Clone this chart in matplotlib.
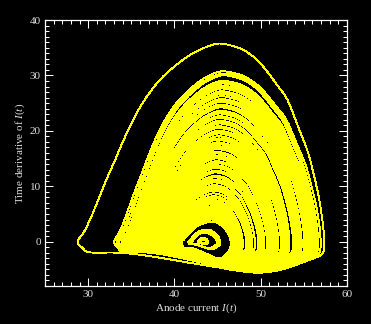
import numpy as np
import matplotlib
matplotlib.use("Agg")
import matplotlib.pyplot as plt
from matplotlib.path import Path
from matplotlib.patches import PathPatch
from matplotlib.ticker import MultipleLocator

plt.rcParams['font.family'] = ['Liberation Serif', 'DejaVu Serif']
plt.rcParams['mathtext.fontset'] = 'custom'
plt.rcParams['mathtext.rm'] = 'Liberation Serif'
plt.rcParams['mathtext.it'] = 'Liberation Serif:italic'

# ---- loop parameters (one entry per orbit loop) ----
loop_top = [35.7, 30.7, 30.3, 30.0,
            29.0, 28.7, 28.5, 28.1, 27.8, 27.6, 27.1, 26.8, 26.6, 26.2,
            25.7, 25.5, 25.2, 24.7, 24.4, 24.2, 23.6, 23.3, 23.1, 22.6,
            22.3, 21.8, 21.5, 21.3, 20.8, 20.5, 20.0, 19.7, 19.5, 19.0,
            18.6, 18.4, 17.9, 17.6, 17.2, 16.9, 16.7, 16.2, 15.9, 15.5,
            15.2, 15.0, 14.5, 14.2, 13.8, 13.5, 13.3, 12.8, 12.5, 11.9,
            11.6, 11.2, 10.9, 10.7, 10.2, 9.9, 9.5, 9.2, 8.7, 8.2,
            7.9, 7.5, 7.2, 6.8, 6.4, 6.1, 5.7, 5.4, 5.0, 4.7,
            4.3, 4.0, 3.6,
            2.2, 1.9, 1.6, 0.7, 0.4]
loop_left = [28.8, 33.0, 33.3, 33.6,
             33.9, 34.2, 34.0, 34.3, 34.1, 34.3, 34.7, 34.4, 34.7, 34.5,
             34.8, 35.1, 34.9, 35.2, 35.0, 35.2, 35.6, 35.4, 35.6, 35.5,
             35.8, 36.1, 35.9, 36.1, 36.0, 36.2, 36.6, 36.4, 36.6, 36.4,
             36.8, 37.0, 36.8, 37.1, 36.9, 37.2, 37.5, 37.3, 37.6, 37.4,
             37.7, 37.9, 37.8, 38.0, 37.9, 38.1, 38.4, 38.2, 38.5, 38.4,
             38.6, 39.0, 38.7, 39.0, 38.8, 39.1, 39.4, 39.2, 39.5, 39.4,
             39.6, 40.0, 39.7, 40.0, 39.8, 40.1, 40.4, 40.2, 40.5, 40.3,
             40.6, 40.8, 40.8,
             41.6, 41.8, 42.0, 42.7, 42.9]
loop_peak_x = [44.9, 45.3, 45.4, 45.4,
               45.3, 45.3, 45.3, 45.3, 45.3, 45.2, 45.2, 45.2, 45.2, 45.2,
               45.2, 45.2, 45.1, 45.1, 45.1, 45.1, 45.1, 45.1, 45.0, 45.0,
               45.0, 45.0, 45.0, 45.0, 44.9, 44.9, 44.9, 44.9, 44.9, 44.9,
               44.9, 44.8, 44.8, 44.8, 44.8, 44.8, 44.8, 44.7, 44.7, 44.7,
               44.7, 44.7, 44.7, 44.7, 44.6, 44.6, 44.6, 44.6, 44.6, 44.6,
               44.5, 44.5, 44.5, 44.5, 44.5, 44.5, 44.5, 44.4, 44.4, 44.4,
               44.4, 44.4, 44.3, 44.3, 44.3, 44.3, 44.3, 44.3, 44.3, 44.2,
               44.2, 44.2, 44.2,
               43.6, 43.5, 43.4, 43.3, 43.3]
loop_right = [57.3, 56.9, 56.6, 56.4,
              56.2, 56.0, 56.1, 55.8, 55.8, 55.6, 55.4, 55.4, 55.3, 55.1,
              55.0, 54.7, 54.7, 54.6, 54.4, 54.3, 54.1, 54.1, 53.9, 53.7,
              53.7, 53.3, 53.3, 53.3, 53.1, 52.9, 52.8, 52.7, 52.6, 52.4,
              52.3, 52.0, 52.0, 51.9, 51.7, 51.5, 51.5, 51.4, 51.2, 51.0,
              51.0, 50.8, 50.7, 50.7, 50.4, 50.2, 50.2, 50.1, 49.9, 49.7,
              49.7, 49.3, 49.3, 49.3, 49.0, 48.8, 48.8, 48.7, 48.5, 48.3,
              48.3, 47.9, 47.9, 47.8, 47.6, 47.4, 47.3, 47.3, 47.1, 46.9,
              46.9, 46.7, 46.5,
              45.3, 45.1, 44.9, 43.9, 43.7]
loop_bottom = [-5.7, -5.5, -5.6, -5.4,
               -5.5, -5.6, -5.4, -5.5, -5.6, -5.4, -5.5, -5.3, -5.4, -5.5,
               -5.3, -5.4, -5.2, -5.3, -5.4, -5.2, -5.3, -5.1, -5.2, -5.3,
               -5.1, -5.0, -5.2, -5.0, -5.1, -4.9, -5.0, -4.8, -4.9, -5.0,
               -4.8, -4.9, -4.7, -4.8, -4.6, -4.7, -4.8, -4.6, -4.7, -4.5,
               -4.6, -4.4, -4.5, -4.3, -4.4, -4.5, -4.3, -4.4, -4.2, -4.3,
               -4.1, -4.2, -4.0, -4.1, -4.2, -4.0, -4.1, -3.9, -3.8, -3.7,
               -3.8, -3.6, -3.7, -3.5, -3.6, -3.4, -3.5, -3.3, -3.4, -3.2,
               -3.3, -3.1, -3.2,
               -1.4, -1.3, -1.2, -0.5, -0.3]

assert len(loop_top) == len(loop_left) == len(loop_peak_x) == len(loop_right) == len(loop_bottom)

# normalised outline of one loop, traced from the outermost orbit
shape_u = [-1.0, -0.95, -0.894, -0.814, -0.727, -0.64, -0.534, -0.416, -0.286, -0.149, 0.0,
           0.129, 0.25, 0.371, 0.46, 0.556, 0.661, 0.766, 0.855, 0.927, 0.968, 1.0,
           0.992, 0.879, 0.613, 0.411, 0.21, 0.032, -0.199, -0.484, -0.702, -0.913, -0.963]
shape_v = [0.0, 0.056, 0.14, 0.28, 0.42, 0.56, 0.70, 0.812, 0.896, 0.961, 1.0,
           0.992, 0.969, 0.922, 0.868, 0.798, 0.717, 0.574, 0.448, 0.294, 0.182, 0.045,
           -0.35, -0.56, -0.877, -0.98, -0.93, -0.825, -0.667, -0.456, -0.35, -0.34, -0.21]


def loop_vertices(xl, xp, xr, yp, yb):
    u = np.asarray(shape_u)
    v = np.asarray(shape_v)
    x = np.where(u < 0, xp + u * (xp - xl), xp + u * (xr - xp))
    y = np.where(v >= 0, v * yp, v * abs(yb))
    P = np.column_stack([x, y])
    n = len(P)
    verts = [P[0]]
    codes = [Path.MOVETO]
    for i in range(n):
        p0, p1, p2, p3 = P[i - 1], P[i], P[(i + 1) % n], P[(i + 2) % n]
        c1 = p1 + (p2 - p0) / 6.0
        c2 = p2 - (p3 - p1) / 6.0
        verts += [c1, c2, p2]
        codes += [Path.CURVE4] * 3
    return verts, codes


all_verts, all_codes = [], []
for xl, xp, xr, yp, yb in zip(loop_left, loop_peak_x, loop_right, loop_top, loop_bottom):
    vv, cc = loop_vertices(xl, xp, xr, yp, yb)
    all_verts += vv
    all_codes += cc

fig = plt.figure(figsize=(3.71, 3.24), dpi=100, facecolor='black')
ax = fig.add_axes([45 / 371, 1 - 286 / 324, 302 / 371, 266 / 324])
ax.set_facecolor('black')

ax.add_patch(PathPatch(Path(np.array(all_verts), all_codes), facecolor='none',
                       edgecolor='#ffff00', lw=0.65, antialiased=False))

ax.set_xlim(25, 60)
ax.set_ylim(-8, 40)
ax.xaxis.set_major_locator(MultipleLocator(10))
ax.xaxis.set_minor_locator(MultipleLocator(1))
ax.yaxis.set_major_locator(MultipleLocator(10))
ax.yaxis.set_minor_locator(MultipleLocator(1))
ax.tick_params(which='both', direction='in', top=True, right=True, colors='white',
               labelcolor='#dddddd', labelsize=8, width=0.75)
ax.tick_params(which='major', length=6, pad=3)
ax.tick_params(which='minor', length=3)
for s in ax.spines.values():
    s.set_color('white')
    s.set_linewidth(0.9)

ax.set_xlabel(r'Anode current $\mathit{I(t)}$', color='#dddddd', fontsize=8, labelpad=2)
ax.set_ylabel(r'Time derivative of $\mathit{I(t)}$', color='#dddddd', fontsize=8, labelpad=2)

fig.savefig('out.png', dpi=100, facecolor='black')
